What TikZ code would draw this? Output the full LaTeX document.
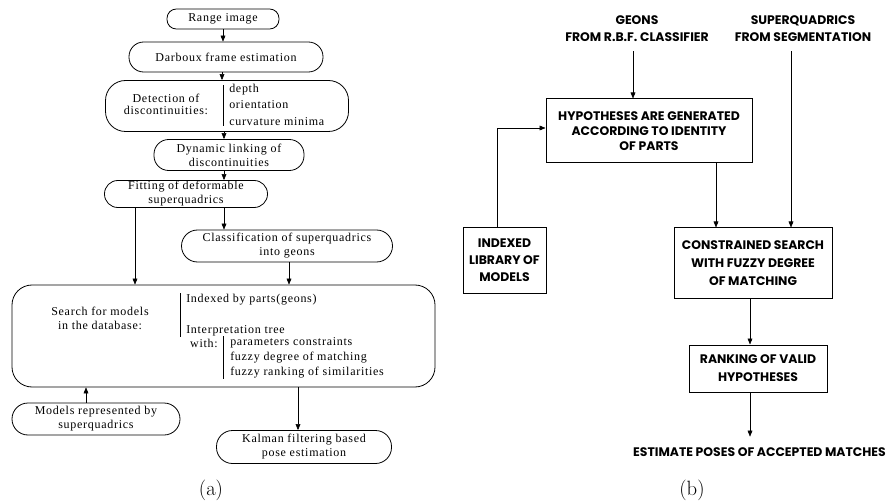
\documentclass[tikz,border=0pt]{standalone}
\usepackage{fontspec}
\newfontfamily\flowfont{Liberation Serif}[LetterSpace=6.0]
\newfontfamily\capsfont{Poppins}
\usetikzlibrary{arrows.meta, positioning, calc}
\tikzset{
  stadium/.style={draw, rounded corners=#1, align=center, inner sep=0pt, line width=0.6pt, font=\flowfont\fontsize{9}{10.5}\selectfont},
  stadium/.default=10pt,
  item/.style={anchor=west, inner sep=0pt, font=\flowfont\fontsize{9}{10.5}\selectfont},
  capsbox/.style={draw, align=center, inner sep=0pt, line width=0.75pt, font=\capsfont\bfseries\fontsize{9.3}{11.25}\selectfont},
  capstext/.style={align=center, inner sep=2pt, font=\capsfont\bfseries\fontsize{9.3}{12.75}\selectfont},
  sublabel/.style={inner sep=0pt, font=\fontsize{15.5}{18}\selectfont}
}

\begin{document}
\begin{tikzpicture}[x=0.75pt, y=-0.75pt, >={Triangle[length=4.5pt, width=3.6pt]}, thin]
\useasboundingbox (0,0) rectangle (888,502);

\node[stadium=7pt, minimum width=84pt, minimum height=15pt] (range) at (223,19) {Range image};
\node[stadium=11pt, minimum width=145.5pt, minimum height=22.5pt] (darboux) at (226,57) {Darboux frame estimation};
\node[stadium=15pt, minimum width=182.25pt, minimum height=38.25pt] (detect) at (227,106) {};
\node[stadium, draw=none, font=\flowfont\fontsize{9}{8.8}\selectfont] (detectL) at (166,104.5) {Detection of\\discontinuities:};
\node[item] (depth) at (229,90) {depth};
\node[item, below=3.3pt of depth.south west, anchor=north west] (orient) {orientation};
\node[item] (curv) at (229,122) {curvature minima};
\draw (detect.north -| 223,0) ++(0,5) coordinate (dtop) -- (dtop |- curv.south) coordinate (dbot);
\node[stadium=11pt, minimum width=112.5pt, minimum height=23.25pt] (dynamic) at (229,155) {Dynamic linking of\\discontinuities};
\node[stadium=10pt, minimum width=122.25pt, minimum height=20.25pt] (fitting) at (186,194) {Fitting of deformable\\superquadrics};
\node[stadium=12pt, minimum width=158.25pt, minimum height=24pt] (classif) at (287,246) {Classification of superquadrics\\into geons};
\node[stadium=15pt, minimum width=317.25pt, minimum height=76.5pt] (search) at (223.5,336) {};
\node[stadium, draw=none] (searchL) at (100,318.5) {Search for models\\in the database:};
\node[item] (indexby) at (186,300) {Indexed by parts(geons)};
\node[item] (itree) at (186,331) {Interpretation tree};
\node[item, anchor=east] (with) at (218,343) {with:};
\node[item] (param) at (230,343) {parameters constraints};
\node[item] (fdeg) at (230,358) {fuzzy degree of matching};
\node[item] (frank) at (230,373) {fuzzy ranking of similarities};
\coordinate (s1top) at (180,293);
\coordinate (s1bot) at (180,337);
\coordinate (s2top) at (223,336);
\coordinate (s2bot) at (223,379);
\draw (s1top) -- (s1bot);
\draw (s2top) -- (s2bot);
\node[stadium=12pt, minimum width=126pt, minimum height=24pt] (models) at (96,419) {Models represented by\\superquadrics};
\node[stadium=12pt, minimum width=131.25pt, minimum height=24.75pt] (kalman) at (304,447) {Kalman filtering based\\pose estimation};

\draw[->] (range.south) -- (range.south |- darboux.north);
\draw[->] ([xshift=-3pt]darboux.south) -- ([xshift=-3pt]darboux.south |- detect.north);
\draw[->] ([xshift=-2.25pt]detect.south) -- ([xshift=-2.25pt]detect.south |- dynamic.north);
\draw[->] ([xshift=-3.75pt]dynamic.south) -- ([xshift=-3.75pt]dynamic.south |- fitting.north);
\draw[->] ([xshift=28.5pt]fitting.south) -- ([xshift=28.5pt]fitting.south |- classif.north);
\draw[->] ([xshift=-38.25pt]fitting.south) -- ([xshift=-38.25pt]fitting.south |- search.north);
\draw[->] ([xshift=1.5pt]classif.south) -- ([xshift=1.5pt]classif.south |- search.north);
\draw[->] ([xshift=-7.5pt]models.north) -- ([xshift=-7.5pt]models.north |- search.south);
\draw[->] ([xshift=-4.5pt]kalman.north |- search.south) -- ([xshift=-4.5pt]kalman.north);

\node[capstext] (geons) at (637,28.5) {GEONS\\FROM R.B.F. CLASSIFIER};
\node[capstext] (superq) at (803,28.5) {SUPERQUADRICS\\FROM SEGMENTATION};
\node[capsbox, minimum width=154.5pt, minimum height=48pt] (hyp) at (649,131) {HYPOTHESES ARE GENERATED\\ACCORDING TO IDENTITY\\OF PARTS};
\node[capsbox, minimum width=62.25pt, minimum height=48.75pt, font=\capsfont\bfseries\fontsize{9.3}{12.75}\selectfont] (indexed) at (504.5,260.5) {INDEXED\\LIBRARY OF\\MODELS};
\node[capsbox, minimum width=118.5pt, minimum height=52.5pt, font=\capsfont\bfseries\fontsize{9.3}{13.5}\selectfont] (con) at (753,263) {CONSTRAINED SEARCH\\WITH FUZZY DEGREE\\OF MATCHING};
\node[capsbox, minimum width=103.5pt, minimum height=35.25pt, font=\capsfont\bfseries\fontsize{9.3}{13.5}\selectfont] (rank) at (758,368.5) {RANKING OF VALID\\HYPOTHESES};
\node[capstext] (estimate) at (759.5,452) {ESTIMATE POSES OF ACCEPTED MATCHES};

\draw[->, shorten <=5pt] ([xshift=-3pt]geons.south) -- ([xshift=-3pt]geons.south |- hyp.north);
\draw[->, shorten <=5pt] ([xshift=-9pt]superq.south) -- ([xshift=-9pt]superq.south |- con.north);
\draw[->] ([xshift=50.25pt]hyp.south) -- ([xshift=50.25pt]hyp.south |- con.north);
\draw[->] ([xshift=-5.6pt]indexed.north) |- ([yshift=2.25pt]hyp.west);
\draw[->] ([xshift=-2.25pt]con.south) -- ([xshift=-2.25pt]con.south |- rank.north);
\draw[->, shorten >=6pt] ([xshift=-6pt]rank.south) -- ([xshift=-6pt]rank.south |- estimate.north);

\node[sublabel] (labA) at (211,490) {(a)};
\node[sublabel] (labB) at (692,490) {(b)};
\end{tikzpicture}
\end{document}
